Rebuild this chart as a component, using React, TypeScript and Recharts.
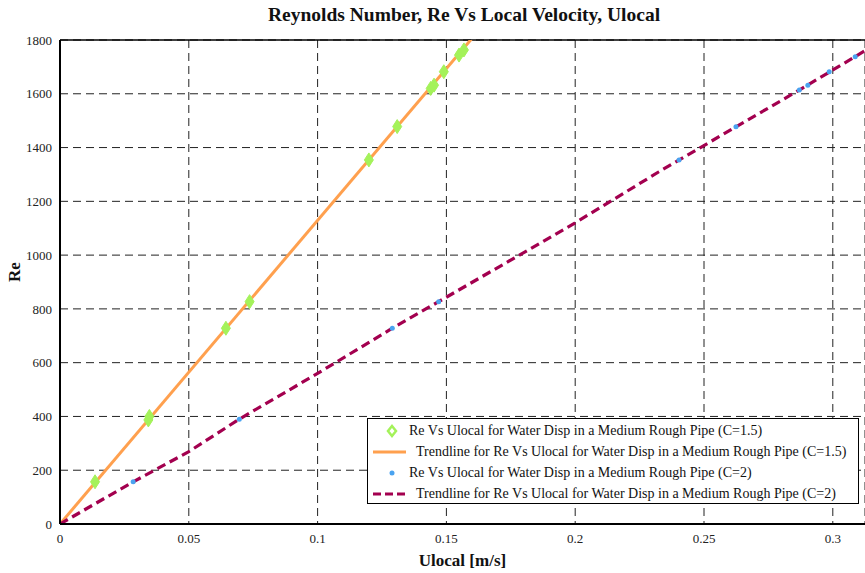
import React from "react";
import {
  ComposedChart,
  Line,
  Scatter,
  XAxis,
  YAxis,
  CartesianGrid,
  ReferenceLine,
  Label,
} from "recharts";

// measured points, C = 1.5
const uC15 = [0.0136, 0.0343, 0.0347, 0.0644, 0.0736, 0.1199, 0.1309, 0.1439, 0.1452, 0.149, 0.1549, 0.1568];
const reC15 = [157, 387, 400, 728, 827, 1354, 1478, 1620, 1632, 1682, 1744, 1763];

// measured points, C = 2
const uC2 = [0.0284, 0.0696, 0.129, 0.147, 0.2403, 0.2624, 0.287, 0.2903, 0.2986, 0.3087];
const reC2 = [157, 390, 728, 827, 1354, 1477, 1614, 1632, 1682, 1738];

// trendlines
const trendU15 = [0, 0.1625];
const trendRe15 = [0, 1835];
const trendU2 = [0, 0.0284, 0.05, 0.0696, 0.1, 0.129, 0.147, 0.2, 0.2325, 0.2624, 0.287, 0.3087, 0.315];
const trendRe2 = [0, 157, 269, 390, 560, 728, 827, 1120, 1310, 1477, 1614, 1738, 1775];

const xTicks = [0, 0.05, 0.1, 0.15, 0.2, 0.25, 0.3];
const yTicks = [0, 200, 400, 600, 800, 1000, 1200, 1400, 1600, 1800];

const legendLabels = [
  "Re Vs Ulocal for Water Disp in a Medium Rough Pipe (C=1.5)",
  "Trendline for Re Vs Ulocal for Water Disp in a Medium Rough Pipe (C=1.5)",
  "Re Vs Ulocal for Water Disp in a Medium Rough Pipe (C=2)",
  "Trendline for Re Vs Ulocal for Water Disp in a Medium Rough Pipe (C=2)",
];

const zip = (xs: number[], ys: number[]) => xs.map((u, i) => ({ u, re: ys[i] }));

const pts15 = zip(uC15, reC15);
const pts2 = zip(uC2, reC2);
const trend15 = zip(trendU15, trendRe15);
const trend2 = zip(trendU2, trendRe2);

const FONT = "'Liberation Serif', 'DejaVu Serif', serif";
const GREEN = "#a4f25a";
const ORANGE = "#ffa04e";
const BLUE = "#4aa3f0";
const PURPLE = "#a3004f";

const Diamond = (props: any) => {
  const { cx, cy } = props;
  if (cx == null || cy == null) return null;
  return (
    <path
      d={`M${cx},${cy - 7} L${cx + 4.5},${cy} L${cx},${cy + 7} L${cx - 4.5},${cy} Z`}
      fill={GREEN}
      stroke={GREEN}
    />
  );
};

const Dot = (props: any) => {
  const { cx, cy } = props;
  if (cx == null || cy == null) return null;
  return <circle cx={cx} cy={cy} r={2.5} fill={BLUE} />;
};

function LegendBox() {
  const row = { display: "flex", alignItems: "center", height: 21, whiteSpace: "nowrap" as const };
  return (
    <div
      style={{
        position: "absolute",
        left: 367,
        top: 418,
        width: 492,
        height: 86,
        border: "1px solid #000",
        background: "#fff",
        fontFamily: FONT,
        fontSize: 14,
        color: "#111",
        paddingTop: 1,
        boxSizing: "border-box",
      }}
    >
      <div style={row}>
        <svg width={41} height={16}>
          <path d="M24,3 L28,8 L24,13 L20,8 Z" fill="none" stroke={GREEN} strokeWidth={2.5} />
        </svg>
        <span>{legendLabels[0]}</span>
      </div>
      <div style={row}>
        <svg width={48} height={16}>
          <line x1={5} y1={8} x2={38} y2={8} stroke={ORANGE} strokeWidth={3} />
        </svg>
        <span>{legendLabels[1]}</span>
      </div>
      <div style={row}>
        <svg width={41} height={16}>
          <circle cx={24} cy={8} r={2.5} fill={BLUE} />
        </svg>
        <span>{legendLabels[2]}</span>
      </div>
      <div style={row}>
        <svg width={48} height={16}>
          <line x1={5} y1={8} x2={38} y2={8} stroke={PURPLE} strokeWidth={3} strokeDasharray="8 4" />
        </svg>
        <span>{legendLabels[3]}</span>
      </div>
    </div>
  );
}

export default function App() {
  return (
    <div style={{ position: "absolute", left: 0, top: 0, width: 865, height: 573, background: "#fff", overflow: "hidden" }}>
      <div
        style={{
          position: "absolute",
          left: 0,
          width: 928,
          top: 4,
          textAlign: "center",
          fontFamily: FONT,
          fontWeight: "bold",
          fontSize: 19.5,
          color: "#111",
        }}
      >
        Reynolds Number, Re Vs Local Velocity, Ulocal
      </div>
      <ComposedChart
        width={865}
        height={573}
        margin={{ top: 40, right: 0, bottom: 0, left: 0 }}
        style={{ fontFamily: FONT }}
      >
        <CartesianGrid stroke="#222" strokeDasharray="8 5" strokeWidth={1} />
        <XAxis
          dataKey="u"
          type="number"
          domain={[0, 0.3125]}
          ticks={xTicks}
          allowDataOverflow
          height={49}
          tickLine={false}
          axisLine={{ stroke: "#000", strokeWidth: 2 }}
          tick={{ fontSize: 13, fill: "#222" }}
          tickMargin={4}
        >
          <Label value="Ulocal [m/s]" position="insideBottom" offset={7} style={{ fontSize: 17, fontWeight: "bold", fill: "#111" }} />
        </XAxis>
        <YAxis
          dataKey="re"
          type="number"
          domain={[0, 1800]}
          ticks={yTicks}
          allowDataOverflow
          width={60}
          tickLine={false}
          axisLine={{ stroke: "#000", strokeWidth: 2 }}
          tick={{ fontSize: 13, fill: "#222" }}
          tickMargin={2}
        >
          <Label value="Re" angle={-90} position="insideLeft" offset={14} style={{ fontSize: 17, fontWeight: "bold", fill: "#111" }} />
        </YAxis>
        <ReferenceLine y={1800} stroke="#000" strokeWidth={1.5} />
        <Scatter data={pts15} shape={<Diamond />} isAnimationActive={false} />
        <Scatter data={pts2} shape={<Dot />} isAnimationActive={false} />
        <Line
          data={trend15}
          dataKey="re"
          type="linear"
          stroke={ORANGE}
          strokeWidth={3}
          dot={false}
          isAnimationActive={false}
        />
        <Line
          data={trend2}
          dataKey="re"
          type="linear"
          stroke={PURPLE}
          strokeWidth={3.2}
          strokeDasharray="9 5"
          dot={false}
          isAnimationActive={false}
        />
      </ComposedChart>
      <LegendBox />
    </div>
  );
}
